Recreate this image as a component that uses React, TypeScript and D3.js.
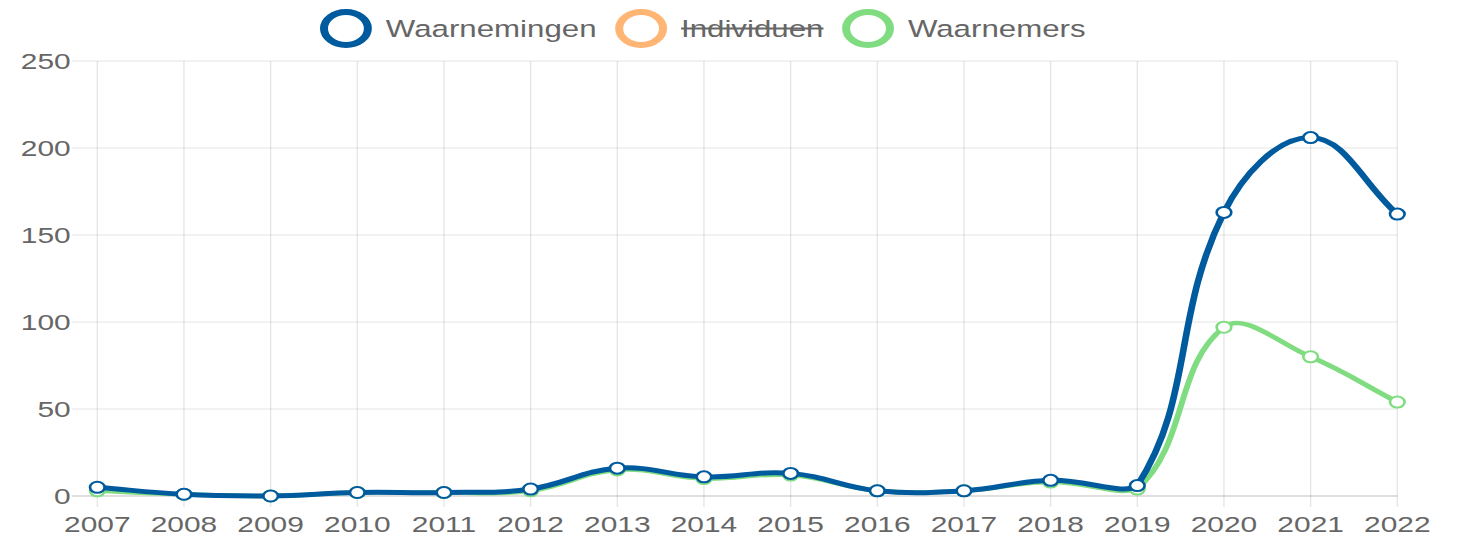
import React, { useEffect, useRef } from "react";
import * as d3 from "d3";

// data
const years = ["2007", "2008", "2009", "2010", "2011", "2012", "2013", "2014", "2015", "2016", "2017", "2018", "2019", "2020", "2021", "2022"];
const waarnemingen = [5, 1, 0, 2, 2, 4, 16, 11, 13, 3, 3, 9, 6, 163, 206, 162];
const waarnemers = [3, 1, 0, 2, 2, 3, 15, 10, 12, 3, 3, 8, 4, 97, 80, 54];
const legendLabels = ["Waarnemingen", "Individuen", "Waarnemers"];
const legendColors = ["#005a9e", "#ffb574", "#80dc80"];
const legendHidden = [false, true, false];
const yTicks = [0, 50, 100, 150, 200, 250];

// the picture is stretched horizontally, so draw in unstretched units and scale
const SX = 1.33;
const W = 1460 / SX;
const H = 538;
const margin = { top: 61, right: W - 1397.3 / SX, bottom: H - 496, left: 97.3 / SX };
const FONT = "'Liberation Sans', Arial, Helvetica, sans-serif";
const TEXT = "#666";

// Chart.js v2 style bezier (tension 0.4), control points capped to chart area
function splinePath(pts: [number, number][], t: number, yMin: number, yMax: number) {
  const n = pts.length;
  const clampY = (v: number) => Math.max(yMin, Math.min(yMax, v));
  const cps = pts.map((p, i) => {
    const prev = pts[Math.max(0, i - 1)];
    const next = pts[Math.min(n - 1, i + 1)];
    const d01 = Math.hypot(p[0] - prev[0], p[1] - prev[1]);
    const d12 = Math.hypot(next[0] - p[0], next[1] - p[1]);
    let s01 = d01 / (d01 + d12);
    let s12 = d12 / (d01 + d12);
    if (isNaN(s01)) s01 = 0;
    if (isNaN(s12)) s12 = 0;
    const fa = t * s01;
    const fb = t * s12;
    return {
      prev: [p[0] - fa * (next[0] - prev[0]), clampY(p[1] - fa * (next[1] - prev[1]))],
      next: [p[0] + fb * (next[0] - prev[0]), clampY(p[1] + fb * (next[1] - prev[1]))],
    };
  });
  const path = d3.path();
  path.moveTo(pts[0][0], pts[0][1]);
  for (let i = 1; i < n; i++) {
    path.bezierCurveTo(cps[i - 1].next[0], cps[i - 1].next[1], cps[i].prev[0], cps[i].prev[1], pts[i][0], pts[i][1]);
  }
  return path.toString();
}

const App = () => {
  const svgRef = useRef<SVGSVGElement>(null);

  useEffect(() => {
    if (!svgRef.current) return;
    const svg = d3.select(svgRef.current);
    svg.selectAll("*").remove();

    const root = svg.append("g").attr("transform", `scale(${SX},1)`);

    const x = d3.scalePoint<string>().domain(years).range([margin.left, W - margin.right]);
    const y = d3.scaleLinear().domain([0, 250]).range([H - margin.bottom, margin.top]);

    // grid
    const grid = root.append("g");
    grid.selectAll("line.v")
      .data(years)
      .enter()
      .append("line")
      .attr("x1", (d) => x(d)!)
      .attr("x2", (d) => x(d)!)
      .attr("y1", margin.top)
      .attr("y2", H - margin.bottom + 11)
      .attr("stroke", "rgba(0,0,0,0.1)")
      .attr("stroke-width", 1);

    grid.selectAll("line.h")
      .data(yTicks)
      .enter()
      .append("line")
      .attr("x1", margin.left - 19)
      .attr("x2", W - margin.right)
      .attr("y1", (d) => y(d))
      .attr("y2", (d) => y(d))
      .attr("stroke", (d) => (d === 0 ? "rgba(0,0,0,0.25)" : "rgba(0,0,0,0.1)"))
      .attr("stroke-width", 1);

    // axis labels
    root.append("g")
      .selectAll("text")
      .data(yTicks)
      .enter()
      .append("text")
      .attr("x", margin.left - 20)
      .attr("y", (d) => y(d))
      .attr("dy", "0.35em")
      .attr("text-anchor", "end")
      .attr("font-family", FONT)
      .attr("font-size", 22.5)
      .attr("fill", TEXT)
      .text((d) => d);

    root.append("g")
      .selectAll("text")
      .data(years)
      .enter()
      .append("text")
      .attr("x", (d) => x(d)!)
      .attr("y", H - 6)
      .attr("text-anchor", "middle")
      .attr("font-family", FONT)
      .attr("font-size", 22.5)
      .attr("fill", TEXT)
      .text((d) => d);

    // series, last dataset drawn first like Chart.js
    const series = [
      { values: waarnemers, color: legendColors[2], width: 4.5 },
      { values: waarnemingen, color: legendColors[0], width: 5 },
    ];
    series.forEach((s) => {
      const pts = s.values.map((v, i) => [x(years[i])!, y(v)] as [number, number]);
      root.append("path")
        .attr("d", splinePath(pts, 0.4, margin.top, H - margin.bottom))
        .attr("fill", "none")
        .attr("stroke", s.color)
        .attr("stroke-width", s.width);
      root.append("g")
        .selectAll("circle")
        .data(pts)
        .enter()
        .append("circle")
        .attr("cx", (d) => d[0])
        .attr("cy", (d) => d[1])
        .attr("r", 5.5)
        .attr("fill", "#fff")
        .attr("stroke", s.color)
        .attr("stroke-width", 2);
    });

    // legend
    const legend = root.append("g");
    let lx = 320 / SX;
    const ly = 28.5;
    legendLabels.forEach((label, i) => {
      const r = 16.5;
      legend.append("circle")
        .attr("cx", lx + r + 3)
        .attr("cy", ly)
        .attr("r", r)
        .attr("fill", "none")
        .attr("stroke", legendColors[i])
        .attr("stroke-width", 6);
      lx += 2 * r + 6 + 10.5;
      const txt = legend.append("text")
        .attr("x", lx)
        .attr("y", ly)
        .attr("dy", "0.35em")
        .attr("font-family", FONT)
        .attr("font-size", 23.5)
        .attr("fill", TEXT)
        .text(label);
      const tw = (txt.node() as SVGTextElement).getComputedTextLength();
      if (legendHidden[i]) {
        legend.append("line")
          .attr("x1", lx)
          .attr("x2", lx + tw)
          .attr("y1", ly)
          .attr("y2", ly)
          .attr("stroke", TEXT)
          .attr("stroke-width", 2);
      }
      lx += tw + 14;
    });
  }, []);

  return (
    <svg
      ref={svgRef}
      width={1460}
      height={538}
      style={{ position: "absolute", left: 0, top: 0, background: "#fff" }}
    />
  );
};

export default App;
